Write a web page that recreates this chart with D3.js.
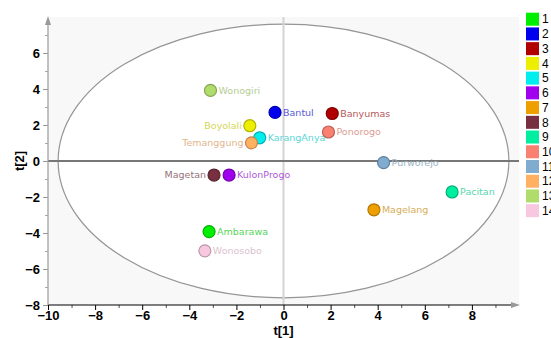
<!DOCTYPE html>
<html>
<head>
<meta charset="utf-8">
<script src="https://cdn.jsdelivr.net/npm/d3@7"></script>
<style>
  html, body { margin: 0; padding: 0; background: #fff; }
  svg { display: block; }
</style>
</head>
<body>
<svg id="chart" width="551" height="338"></svg>
<script>
// Score plot: t[1] vs t[2] per district
const names = ["Ambarawa", "Bantul", "Banyumas", "Boyolali", "KarangAnya", "KulonProgo",
  "Magelang", "Magetan", "Pacitan", "Ponorogo", "Purworejo", "Temanggung", "Wonogiri", "Wonosobo"];
const t1 = [-3.16, -0.36, 2.07, -1.43, -1.01, -2.31, 3.84, -2.95, 7.16, 1.91, 4.25, -1.36, -3.10, -3.34];
const t2 = [-3.92, 2.70, 2.64, 1.96, 1.29, -0.78, -2.71, -0.78, -1.72, 1.61, -0.09, 1.01, 3.92, -4.99];
const colors = ["#00ee00", "#0000ee", "#b00000", "#eeee00", "#00eeee", "#a000ee",
  "#eea000", "#783040", "#00eea0", "#fa8072", "#80acd0", "#ffb060", "#b0dc6c", "#f8c8e0"];
const labelLeft = ["Boyolali", "Temanggung", "Magetan"];
const legendKeys = d3.range(1, 15).map(String);
const xTicks = [-10, -8, -6, -4, -2, 0, 2, 4, 6, 8];
const yTicks = [-8, -6, -4, -2, 0, 2, 4, 6];
const ellipseR = [9.57, 7.6];

(function draw() {
  const svg = d3.select("#chart");
  const pl = 48, pr = 519, pt = 17, pb = 305;
  const x = d3.scaleLinear().domain([-10, 10]).range([pl, pr]);
  const y = d3.scaleLinear().domain([-8, 8]).range([pb, pt]);

  // plot background and the confidence ellipse
  svg.append("rect").attr("x", pl).attr("y", pt)
    .attr("width", pr - pl).attr("height", pb - pt).attr("fill", "#f8f8f8");
  svg.append("ellipse")
    .attr("cx", x(0)).attr("cy", y(0))
    .attr("rx", x(ellipseR[0]) - x(0)).attr("ry", y(0) - y(ellipseR[1]))
    .attr("fill", "#fff").attr("stroke", "#959595").attr("stroke-width", 1.2);

  // zero lines
  svg.append("line").attr("x1", x(0)).attr("x2", x(0)).attr("y1", pt).attr("y2", pb)
    .attr("stroke", "#d4d4d4").attr("stroke-width", 2);
  svg.append("line").attr("x1", pl).attr("x2", pr).attr("y1", y(0)).attr("y2", y(0))
    .attr("stroke", "#777").attr("stroke-width", 2);

  // axes
  const xAxis = svg.append("g").attr("transform", `translate(0,${pb})`)
    .call(d3.axisBottom(x).tickValues(xTicks).tickSize(5).tickFormat(d3.format("d")));
  const xMinor = svg.append("g").attr("transform", `translate(0,${pb})`)
    .call(d3.axisBottom(x).tickValues(d3.range(-9, 10, 2)).tickSize(3).tickFormat(""));
  const yAxis = svg.append("g").attr("transform", `translate(${pl},0)`)
    .call(d3.axisLeft(y).tickValues(yTicks).tickSize(5).tickFormat(d3.format("d")));
  const yMinor = svg.append("g").attr("transform", `translate(${pl},0)`)
    .call(d3.axisLeft(y).tickValues(d3.range(-7, 8, 2)).tickSize(3).tickFormat(""));
  [xAxis, xMinor, yAxis, yMinor].forEach(g => g.select(".domain").remove());
  xAxis.selectAll(".tick line").attr("stroke", "#000");
  xMinor.selectAll(".tick line").attr("stroke", "#555");
  yAxis.selectAll(".tick line").attr("stroke", "#999");
  yMinor.selectAll(".tick line").attr("stroke", "#aaa");
  xAxis.selectAll("text").attr("font-family", "Liberation Sans, Arial, sans-serif")
    .attr("font-size", 13).attr("font-weight", "bold").attr("fill", "#000")
    .attr("y", 6).attr("dy", "0.71em");
  yAxis.selectAll("text").attr("font-family", "Liberation Sans, Arial, sans-serif")
    .attr("font-size", 13).attr("font-weight", "bold").attr("fill", "#000").attr("x", -8);

  // axis lines with arrow heads
  svg.append("line").attr("x1", pl).attr("x2", pr - 4).attr("y1", pb).attr("y2", pb)
    .attr("stroke", "#000").attr("stroke-width", 1.2);
  svg.append("path").attr("d", `M${pr - 8},${pb - 3}L${pr + 1},${pb}L${pr - 8},${pb + 3}Z`)
    .attr("fill", "#999");
  svg.append("line").attr("x1", pl).attr("x2", pl).attr("y1", pb).attr("y2", pt + 4)
    .attr("stroke", "#999").attr("stroke-width", 1.2);
  svg.append("path").attr("d", `M${pl - 3},${pt + 8}L${pl},${pt - 1}L${pl + 3},${pt + 8}Z`)
    .attr("fill", "#999");

  // axis titles
  svg.append("text").attr("x", x(0)).attr("y", 334.5).attr("text-anchor", "middle")
    .attr("font-family", "Liberation Sans, Arial, sans-serif").attr("font-size", 13)
    .attr("font-weight", "bold").text("t[1]");
  svg.append("text").attr("transform", `translate(24,${y(0)}) rotate(-90)`).attr("text-anchor", "middle")
    .attr("font-family", "Liberation Sans, Arial, sans-serif").attr("font-size", 13)
    .attr("font-weight", "bold").text("t[2]");

  // points and labels
  const pts = names.map((n, i) => ({ name: n, t1: t1[i], t2: t2[i], color: colors[i] }));
  const g = svg.append("g");
  g.selectAll("circle").data(pts).join("circle")
    .attr("cx", d => x(d.t1)).attr("cy", d => y(d.t2)).attr("r", 6)
    .attr("fill", d => d.color)
    .attr("stroke", d => d3.color(d.color).darker(0.8))
    .attr("stroke-width", 1.2);
  g.selectAll("text").data(pts).join("text")
    .attr("x", d => x(d.t1) + (labelLeft.includes(d.name) ? -8 : 8))
    .attr("y", d => y(d.t2))
    .attr("dy", "0.35em")
    .attr("text-anchor", d => labelLeft.includes(d.name) ? "end" : "start")
    .attr("font-family", "DejaVu Sans, sans-serif").attr("font-size", 9.5)
    .attr("fill", d => d3.interpolateRgb(d3.color(d.color).darker(0.6), "#fff")(0.35))
    .text(d => d.name);

  // legend
  const leg = svg.append("g").attr("transform", "translate(526,12.7)");
  const items = leg.selectAll("g").data(legendKeys).join("g")
    .attr("transform", (d, i) => `translate(0,${i * 14.73})`);
  items.append("rect").attr("width", 13).attr("height", 13).attr("fill", (d, i) => colors[i]);
  items.append("text").attr("x", 16).attr("y", 6.5).attr("dy", "0.35em")
    .attr("font-family", "Liberation Sans, Arial, sans-serif").attr("font-size", 12)
    .attr("fill", "#000").text(d => d);
})();
</script>
</body>
</html>
